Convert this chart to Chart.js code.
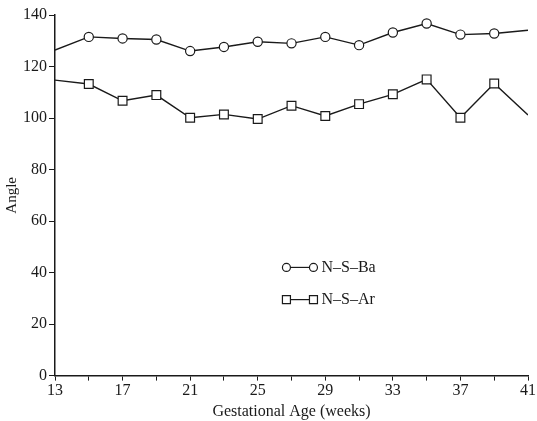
<!DOCTYPE html>
<html>
<head>
<meta charset="utf-8">
<script src="https://cdn.jsdelivr.net/npm/chart.js@4/dist/chart.umd.min.js"></script>
<style>
  body { margin: 0; background: #fff; }
  canvas { display: block; }
</style>
</head>
<body>
<canvas id="chart" width="537" height="421"></canvas>
<script>
// gestational weeks (x values)
var weeks = [13, 15, 17, 19, 21, 23, 25, 27, 29, 31, 33, 35, 37, 39, 41];
// N-S-Ba angle
var nsBa = [126.4, 131.5, 130.9, 130.5, 126, 127.6, 129.6, 129, 131.5, 128.3, 133.2, 136.7, 132.4, 132.8, 134.1];
// N-S-Ar angle
var nsAr = [114.7, 113.2, 106.7, 108.9, 100.1, 101.4, 99.6, 104.8, 100.8, 105.4, 109.2, 115, 100.1, 113.4, 101.2];
var yTicks = [0, 20, 40, 60, 80, 100, 120, 140];
var legendNames = ["N\u2013S\u2013Ba", "N\u2013S\u2013Ar"];

var ink = "#1a1a1a";
var serif = "'Liberation Serif', 'DejaVu Serif', serif";

function toPoints(xs, ys) {
    return xs.map(function (x, i) { return { x: x, y: ys[i] }; });
}

// no marker on the first and last point
var radii = weeks.map(function (w, i) { return (i == 0 || i == weeks.length - 1) ? 0 : 4.6; });
var sqRadii = weeks.map(function (w, i) { return (i == 0 || i == weeks.length - 1) ? 0 : 6.2; });

// legend drawn inside the plot area
var insideLegend = {
    id: "insideLegend",
    afterDraw: function (chart) {
        var ctx = chart.ctx;
        var xs = chart.scales.x, ys = chart.scales.y;
        var rows = [
            { name: legendNames[0], style: "circle", y: ys.getPixelForValue(42) },
            { name: legendNames[1], style: "rect", y: ys.getPixelForValue(29.5) }
        ];
        var x1 = xs.getPixelForValue(26.7), x2 = xs.getPixelForValue(28.3);
        ctx.save();
        rows.forEach(function (r) {
            ctx.strokeStyle = ink;
            ctx.lineWidth = 1.2;
            ctx.beginPath();
            ctx.moveTo(x1, r.y);
            ctx.lineTo(x2, r.y);
            ctx.stroke();
            [x1, x2].forEach(function (px) {
                ctx.fillStyle = "#fff";
                ctx.beginPath();
                if (r.style == "circle") {
                    ctx.arc(px, r.y, 4, 0, Math.PI * 2);
                } else {
                    ctx.rect(px - 4, r.y - 4, 8, 8);
                }
                ctx.fill();
                ctx.stroke();
            });
            ctx.fillStyle = ink;
            ctx.font = "16px " + serif;
            ctx.textBaseline = "middle";
            ctx.fillText(r.name, x2 + 8, r.y);
        });
        ctx.restore();
    }
};

var config = {
    type: "line",
    data: {
        datasets: [
            {
                label: legendNames[0],
                data: toPoints(weeks, nsBa),
                borderColor: ink,
                borderWidth: 1.4,
                pointStyle: "circle",
                pointRadius: radii,
                pointBackgroundColor: "#fff",
                pointBorderColor: ink,
                pointBorderWidth: 1.2,
                tension: 0
            },
            {
                label: legendNames[1],
                data: toPoints(weeks, nsAr),
                borderColor: ink,
                borderWidth: 1.4,
                pointStyle: "rect",
                pointRadius: sqRadii,
                pointBackgroundColor: "#fff",
                pointBorderColor: ink,
                pointBorderWidth: 1.2,
                tension: 0
            }
        ]
    },
    options: {
        responsive: false,
        animation: false,
        layout: { padding: { top: 15, right: 0, left: 3, bottom: 0 } },
        plugins: {
            legend: { display: false },
            tooltip: { enabled: false }
        },
        scales: {
            x: {
                type: "linear",
                min: 13,
                max: 41,
                border: { color: ink, width: 1.5 },
                grid: { drawOnChartArea: false, color: ink, tickLength: 5 },
                ticks: {
                    stepSize: 2,
                    autoSkip: false,
                    maxRotation: 0,
                    color: ink,
                    padding: 1,
                    font: { family: serif, size: 16 },
                    callback: function (v) { return (v - 13) % 4 == 0 ? v : ""; }
                },
                title: {
                    display: true,
                    text: "Gestational Age (weeks)",
                    color: ink,
                    padding: { top: 0, bottom: 0 },
                    font: { family: serif, size: 16 }
                }
            },
            y: {
                min: 0,
                max: 140,
                border: { color: ink, width: 1.5 },
                grid: { drawOnChartArea: false, color: ink, tickLength: 6 },
                afterBuildTicks: function (axis) {
                    axis.ticks = yTicks.map(function (v) { return { value: v }; });
                },
                ticks: {
                    color: ink,
                    padding: 2,
                    font: { family: serif, size: 16 }
                },
                title: {
                    display: true,
                    text: "Angle",
                    color: ink,
                    padding: { top: 0, bottom: 0 },
                    font: { family: serif, size: 15 }
                }
            }
        }
    },
    plugins: [insideLegend]
};

var chart = new Chart(document.getElementById("chart").getContext("2d"), config);
</script>
</body>
</html>
